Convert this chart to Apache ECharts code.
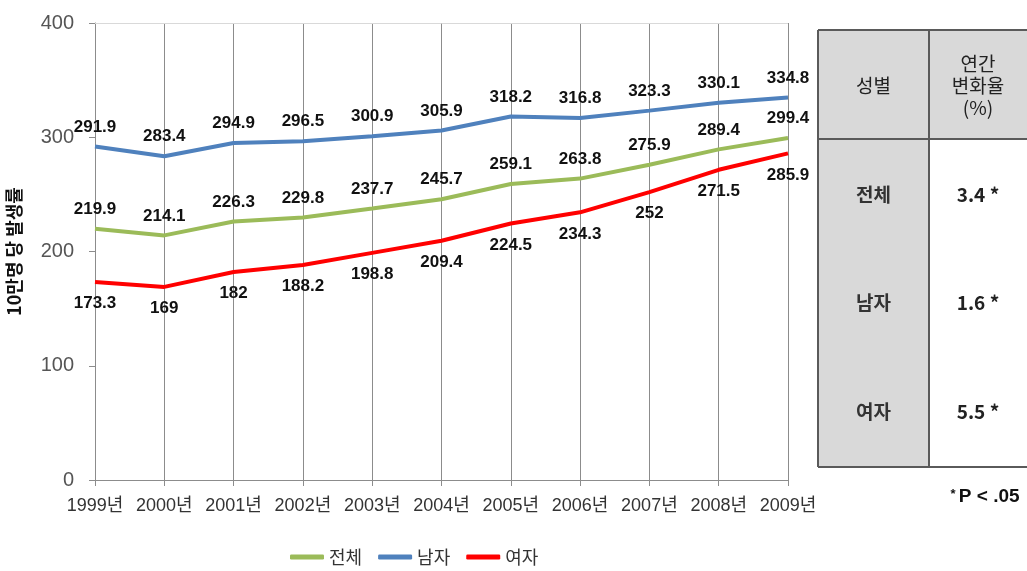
<!DOCTYPE html>
<html><head><meta charset="utf-8">
<script src="https://cdn.jsdelivr.net/npm/echarts@6/dist/echarts.min.js"></script>
<style>html,body{margin:0;padding:0;background:#fff}#c{width:1027px;height:571px}</style>
</head><body><div id="c"></div>
<script>
const years = ['1999년','2000년','2001년','2002년','2003년','2004년','2005년','2006년','2007년','2008년','2009년'];
const seriesNames = ['전체','남자','여자'];
const totalVals = [219.9,214.1,226.3,229.8,237.7,245.7,259.1,263.8,275.9,289.4,299.4];
const maleVals  = [291.9,283.4,294.9,296.5,300.9,305.9,318.2,316.8,323.3,330.1,334.8];
const femaleVals= [173.3,169,182,188.2,198.8,209.4,224.5,234.3,252,271.5,285.9];
const yAxisTitle = '10만명 당 발생률';
const tableHeader = ['성별','연간\n변화율\n(%)'];
const tableRows = ['전체','남자','여자'];
const tableRates = ['3.4 *','1.6 *','5.5 *'];
const footnote = '* P < .05';

const chart = echarts.init(document.getElementById('c'), null, {renderer:'canvas'});
const lblFont = {fontFamily:'Liberation Sans, Arial, sans-serif', fontWeight:'bold', fontSize:17, color:'#111'};
function mkSeries(name, data, color, pos, dist){
  return {name, type:'line', data, symbol:'circle', symbolSize:0.01, showSymbol:true, smooth:false,
    lineStyle:{color, width:4}, itemStyle:{color},
    label:{show:true, position:pos, distance:dist, ...lblFont},
    labelLayout:{hideOverlap:false},
    emphasis:{disabled:true}};
}
const s1 = mkSeries(seriesNames[0], totalVals, '#9bbb59', 'top', 11);
const s2 = mkSeries(seriesNames[1], maleVals, '#4f81bd', 'top', 11);
const s3 = mkSeries(seriesNames[2], femaleVals, '#ff0000', 'bottom', 13);
s1.markLine = {silent:true, symbol:'none', label:{show:false}, lineStyle:{color:'#d9d9d9', width:1, type:'solid'}, data:[{yAxis:400}]};

// table geometry
const tx0=818, tx1=929, tx2=1040, ty0=30, ty1=139, ty2=467;
const rowCenters=[195,303,412];
const border='#5a5a5a', gray='#d9d9d9';
const cjk='Noto Sans CJK KR, sans-serif';
const graphics = [
  {type:'rect', shape:{x:tx0,y:ty0,width:tx2-tx0,height:ty1-ty0}, style:{fill:gray}},
  {type:'rect', shape:{x:tx0,y:ty1,width:tx1-tx0,height:ty2-ty1}, style:{fill:gray}},
  {type:'line', shape:{x1:tx0,y1:ty0,x2:tx2,y2:ty0}, style:{stroke:border,lineWidth:2}},
  {type:'line', shape:{x1:tx0,y1:ty1,x2:tx2,y2:ty1}, style:{stroke:border,lineWidth:2}},
  {type:'line', shape:{x1:tx0,y1:ty2,x2:tx2,y2:ty2}, style:{stroke:border,lineWidth:2}},
  {type:'line', shape:{x1:tx0,y1:ty0,x2:tx0,y2:ty2}, style:{stroke:border,lineWidth:2}},
  {type:'line', shape:{x1:tx1,y1:ty0,x2:tx1,y2:ty2}, style:{stroke:border,lineWidth:2}},
  {type:'text', x:(tx0+tx1)/2, y:86, style:{text:tableHeader[0], font:'19px '+cjk, fill:'#222', align:'center', verticalAlign:'middle'}},
  {type:'text', x:978, y:86, style:{text:tableHeader[1], font:'19px '+cjk, fill:'#222', align:'center', verticalAlign:'middle', lineHeight:22}},
  {type:'text', x:985, y:497, style:{text:'{s|*} {b|P < .05}', rich:{s:{fontSize:13,fontWeight:'bold',fontFamily:'Liberation Sans, Arial',fill:'#111',verticalAlign:'top'}, b:{fontSize:19,fontWeight:'bold',fontFamily:'Liberation Sans, Arial',fill:'#111'}}, align:'center', verticalAlign:'middle'}}
];
tableRows.forEach((r,i)=>{
  graphics.push({type:'text', x:(tx0+tx1)/2, y:rowCenters[i], style:{text:r, font:'bold 19px '+cjk, fill:'#333', align:'center', verticalAlign:'middle'}});
  graphics.push({type:'text', x:978, y:rowCenters[i], style:{text:tableRates[i], font:'bold 19px '+cjk, fill:'#222', align:'center', verticalAlign:'middle'}});
});

chart.setOption({
  animation:false,
  backgroundColor:'#fff',
  grid:{left:95, right:239, top:23, bottom:91, containLabel:false, outerBoundsMode:'none'},
  legend:{data:seriesNames, bottom:0, left:285, icon:'roundRect', itemWidth:34, itemHeight:5, itemGap:16,
    textStyle:{fontFamily:cjk, fontSize:18, color:'#333'}},
  xAxis:{type:'category', data:years, boundaryGap:false,
    axisLine:{lineStyle:{color:'#8c8c8c', width:1}},
    axisTick:{show:true, interval:0, length:6, lineStyle:{color:'#8c8c8c'}},
    axisLabel:{interval:0, fontFamily:'Liberation Sans, Arial, '+cjk, fontSize:18, color:'#333', margin:17},
    splitLine:{show:true, interval:0, lineStyle:{color:'#8c8c8c', width:1}}},
  yAxis:{type:'value', min:0, max:400, interval:100,
    name:yAxisTitle, nameLocation:'middle', nameGap:72, nameRotate:90,
    nameTextStyle:{fontFamily:cjk, fontWeight:'bold', fontSize:18, color:'#111'},
    axisLine:{show:true, lineStyle:{color:'#8c8c8c'}},
    axisTick:{show:true, length:6, lineStyle:{color:'#8c8c8c'}},
    axisLabel:{fontFamily:'Liberation Sans, Arial, sans-serif', fontSize:20, color:'#555', margin:21},
    splitLine:{show:false}},
  series:[s1,s2,s3],
  graphic:graphics
});
</script></body></html>
